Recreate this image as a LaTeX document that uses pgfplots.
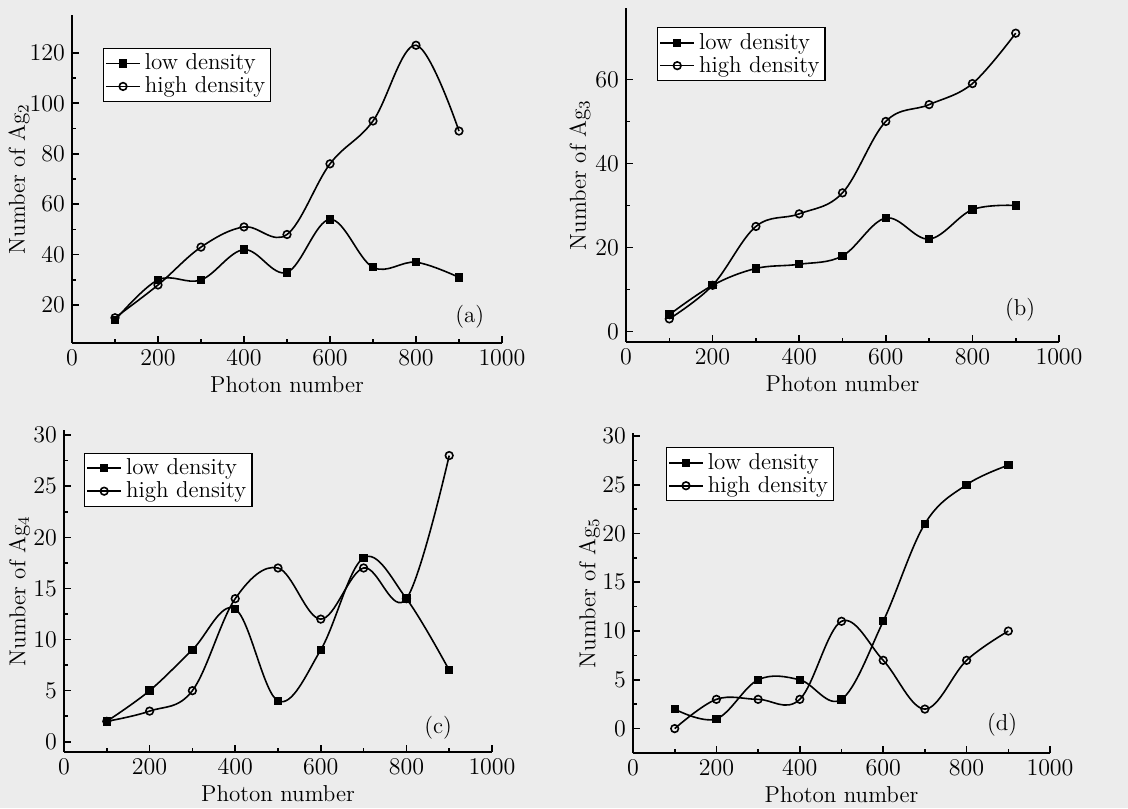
\documentclass[border=0pt]{standalone}
\usepackage{pgfplots}
\pgfplotsset{compat=1.18}
\definecolor{paper}{RGB}{236,236,236}

\pgfplotsset{
  panel/.style={
    scale only axis, anchor=south west,
    xmin=0, xmax=1000, xtick={0,200,...,1000}, minor x tick num=1,
    /pgf/number format/1000 sep={},
    axis lines=left, axis line style={-, line width=1.1pt},
    tick align=inside, major tick length=3.5pt, minor tick length=2pt,
    tick style={line width=0.8pt, black},
    minor y tick num=1,
    tick label style={font=\fontsize{11.5}{13}\selectfont},
    label style={font=\fontsize{11.5}{13}\selectfont},
    xlabel={Photon number},
    xlabel style={yshift=1.5pt},
    legend cell align=left,
    legend style={draw=black, line width=0.6pt, fill=white, inner sep=0.8pt,
      row sep=-2pt, font=\fontsize{11.5}{13}\selectfont, anchor=north west},
    legend image code/.code={
      \draw[mark repeat=2,mark phase=2] plot coordinates {(0cm,0cm) (0.3cm,0cm) (0.6cm,0cm)};},
  },
  ylab at/.style={ylabel style={at={(axis description cs:#1,0.5)}, anchor=center}},
  lowd/.style={black, line width=0.8pt, smooth, tension=0.6, mark=square*, mark size=1.7pt, mark options={solid}},
  highd/.style={black, line width=0.8pt, smooth, tension=0.6, mark=o, mark size=1.9pt, mark options={solid, fill=white}},
}
\tikzset{plab/.style={font=\fontsize{11.5}{13}\selectfont}}

\begin{document}
\begin{tikzpicture}
\useasboundingbox (0,0) rectangle (564pt,404pt);
\fill[paper] (0,0) rectangle (564pt,404pt);

% (a) Ag2
\begin{axis}[panel, at={(36pt,232.5pt)}, width=215pt, height=164pt,
  ymin=5, ymax=135, ytick={20,40,...,120},
  ylabel={Number of Ag$_2$}, ylab at=-0.123,
  legend style={at={(0.072,0.90)}}]
\addplot[lowd] coordinates {(100,14) (200,30) (300,30) (400,42) (500,33) (600,54) (700,35) (800,37) (900,31)};
\addplot[highd] coordinates {(100,15) (200,28) (300,43) (400,51) (500,48) (600,76) (700,93) (800,123) (900,89)};
\legend{low density, high density}
\node[plab] at (rel axis cs:0.925,0.08) {(a)};
\end{axis}

% (b) Ag3
\begin{axis}[panel, at={(313pt,233pt)}, width=216.5pt, height=167pt,
  ymin=-2.5, ymax=77, ytick={0,20,40,60},
  ylabel={Number of Ag$_3$}, ylab at=-0.106,
  legend style={at={(0.072,0.943)}}]
\addplot[lowd] coordinates {(100,4) (200,11) (300,15) (400,16) (500,18) (600,27) (700,22) (800,29) (900,30)};
\addplot[highd] coordinates {(100,3) (200,11) (300,25) (400,28) (500,33) (600,50) (700,54) (800,59) (900,71)};
\legend{low density, high density}
\node[plab] at (rel axis cs:0.91,0.096) {(b)};
\end{axis}

% (c) Ag4
\begin{axis}[panel, at={(32pt,28pt)}, width=214pt, height=161pt,
  ymin=-1, ymax=30.5, ytick={0,5,...,30},
  ylabel={Number of Ag$_4$}, ylab at=-0.104,
  legend style={at={(0.047,0.93)}}]
\addplot[lowd] coordinates {(100,2) (200,5) (300,9) (400,13) (500,4) (600,9) (700,18) (800,14) (900,7)};
\addplot[highd] coordinates {(100,2) (200,3) (300,5) (400,14) (500,17) (600,12) (700,17) (800,14) (900,28)};
\legend{low density, high density}
\node[plab] at (rel axis cs:0.874,0.075) {(c)};
\end{axis}

% (d) Ag5
\begin{axis}[panel, at={(316.5pt,27.5pt)}, width=208.5pt, height=160pt,
  ymin=-2.5, ymax=30.3, ytick={0,5,...,30},
  ylabel={Number of Ag$_5$}, ylab at=-0.104,
  legend style={at={(0.079,0.956)}}]
\addplot[lowd] coordinates {(100,2) (200,1) (300,5) (400,5) (500,3) (600,11) (700,21) (800,25) (900,27)};
\addplot[highd] coordinates {(100,0) (200,3) (300,3) (400,3) (500,11) (600,7) (700,2) (800,7) (900,10)};
\legend{low density, high density}
\node[plab] at (rel axis cs:0.885,0.0875) {(d)};
\end{axis}
\end{tikzpicture}
\end{document}
